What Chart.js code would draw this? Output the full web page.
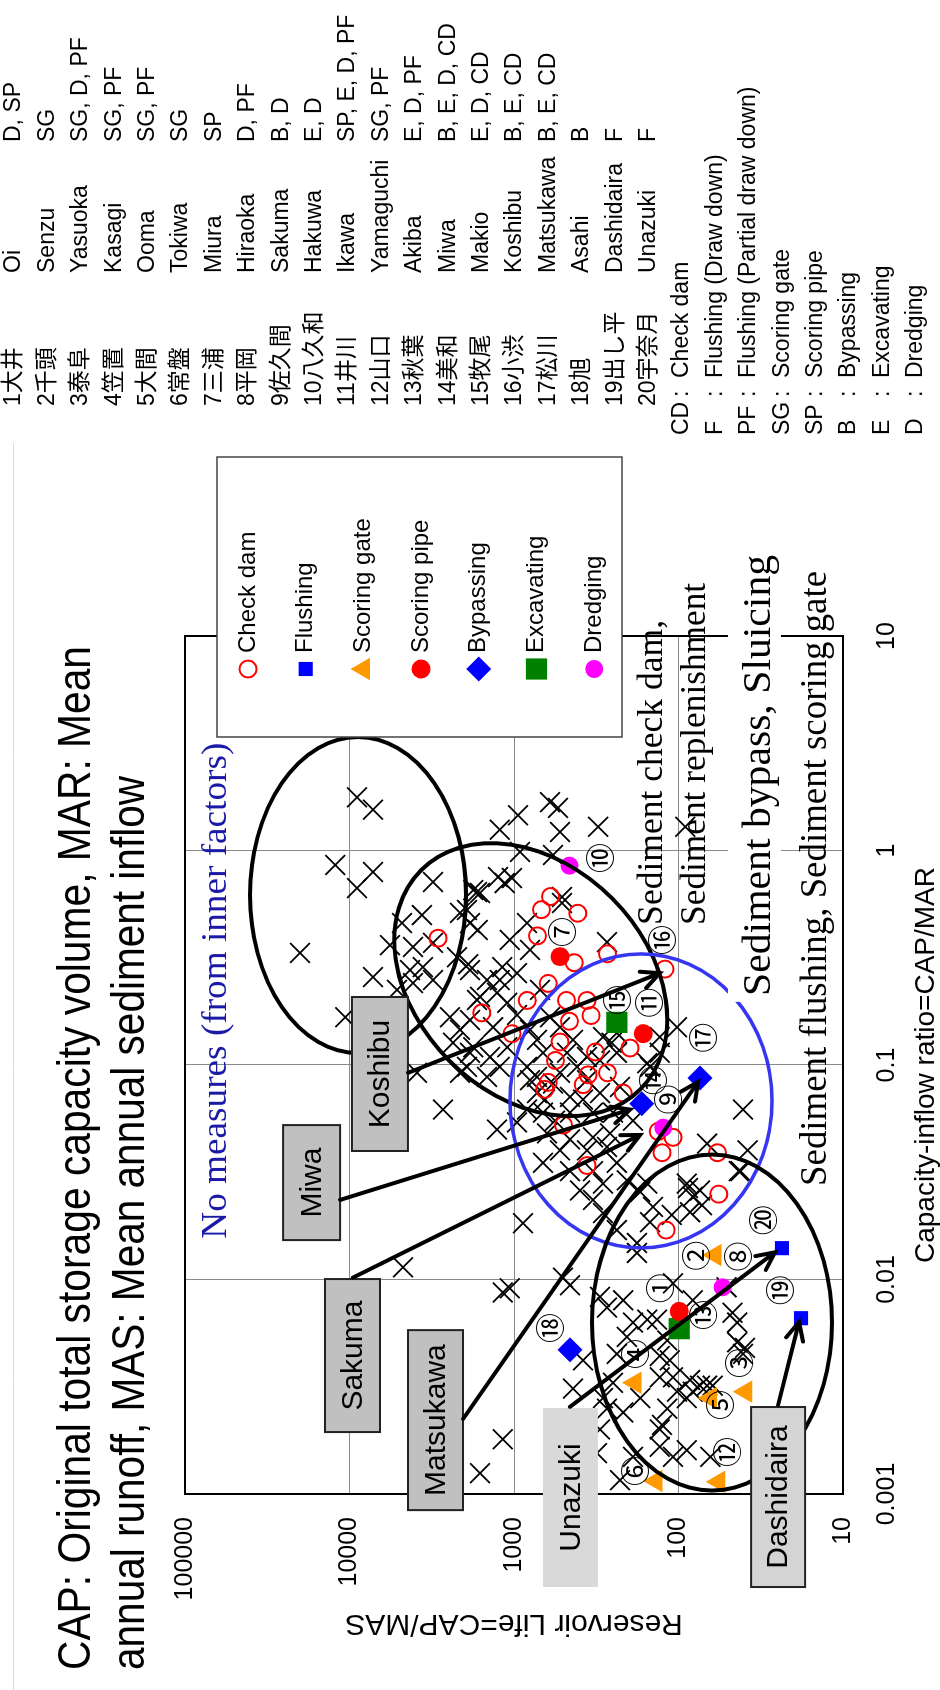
<!DOCTYPE html>
<html>
<head>
<meta charset="utf-8">
<title>Reservoir life vs capacity-inflow ratio</title>
<script src="https://cdn.jsdelivr.net/npm/chart.js@4.4.1/dist/chart.umd.min.js"></script>
<style>
  html, body { margin: 0; padding: 0; background: #fff; overflow: hidden; }
  /* the slide is drawn upright and turned a quarter turn to the left */
  #slide { position: absolute; left: 0; top: 0; width: 1690px; height: 940px;
           transform-origin: 0 0; transform: translate(0, 1690px) rotate(-90deg); }
  #slide canvas { display: block; }
</style>
</head>
<body>
<div id="slide"><canvas id="lifeChart" width="1690" height="940"></canvas></div>
<script>
// Axis ticks
const xTickValues = [0.001, 0.01, 0.1, 1, 10];
const xTickLabels = ['0.001', '0.01', '0.1', '1', '10'];
const yTickValues = [10, 100, 1000, 10000, 100000];
const yTickLabels = ['10', '100', '1000', '10000', '100000'];

// Dams without measures, [CAP/MAR, CAP/MAS]
const otherDams = [
  [1.77, 9000], [1.55, 7190], [0.856, 12200], [0.794, 7190], [0.668, 9000], [0.333, 20000], [0.167, 10600], [0.257, 7190],
  [1.68, 604], [1.58, 540], [1.46, 946], [1.25, 1220], [1.22, 525], [1.29, 308], [1.29, 91], [0.985, 920], [0.953, 579],
  [0.752, 1250], [0.744, 1030], [0.64, 1680], [0.607, 511], [0.713, 3110], [0.654, 1770],
  [0.5, 3630], [0.459, 4800], [0.362, 5670], [0.355, 4110], [0.371, 3110], [0.286, 3580], [0.277, 4290], [0.249, 3110],
  [0.241, 4110], [0.224, 5140], [0.512, 2130], [0.459, 1850], [0.318, 2220], [0.277, 1850], [0.167, 2450], [0.146, 2130],
  [0.127, 2350], [0.114, 1850], [0.092, 2130], [0.092, 3890], [0.062, 2700], [0.201, 1680],
  [0.634, 1610], [0.705, 1140], [0.569, 511], [0.459, 834], [0.383, 1060], [0.344, 800], [0.286, 1180], [0.268, 959],
  [0.528, 1930], [0.426, 1660], [0.295, 1900], [0.249, 1460], [0.374, 272], [0.208, 1610], [0.217, 1270], [0.195, 1100],
  [0.162, 1850], [0.15, 1340], [0.121, 1770], [0.109, 1400], [0.121, 1100], [0.098, 1930], [0.088, 1460], [0.098, 1220],
  [0.131, 725], [0.114, 667], [0.098, 834], [0.114, 476], [0.131, 438], [0.135, 288], [0.127, 255], [0.141, 237],
  [0.109, 360], [0.105, 300], [0.114, 237], [0.15, 102], [0.135, 130], [0.102, 155], [0.088, 725], [0.082, 579],
  [0.071, 457], [0.074, 725], [0.092, 525], [0.069, 381], [0.074, 300], [0.079, 227], [0.06, 457], [0.06, 331],
  [0.06, 250], [0.055, 189], [0.06, 667], [0.062, 834], [0.05, 1270], [0.054, 959], [0.048, 630], [0.045, 457],
  [0.046, 331], [0.048, 261], [0.04, 525], [0.04, 360], [0.0415, 272], [0.035, 237], [0.032, 331], [0.032, 457],
  [0.035, 667], [0.028, 288], [0.029, 206], [0.028, 155], [0.062, 40.5], [0.043, 67], [0.032, 42], [0.028, 89],
  [0.026, 74], [0.098, 149], [0.114, 130], [0.171, 959], [0.146, 800], [0.167, 604], [0.15, 525], [0.224, 695],
  [0.249, 1220], [0.098, 414], [0.085, 360], [0.085, 800], [0.069, 648], [0.055, 564],
  [0.026, 397], [0.0235, 331], [0.0204, 288], [0.017, 237], [0.0256, 171], [0.0218, 143], [0.0148, 179], [0.0185, 149],
  [0.02, 110], [0.0206, 85], [0.0222, 72], [0.0267, 87.5], [0.032, 43], [0.0243, 82], [0.0133, 179], [0.0183, 881],
  [0.0091, 1060], [0.0087, 1170], [0.0102, 504], [0.0094, 457], [0.0083, 300], [0.0074, 272], [0.008, 217], [0.0096, 108],
  [0.008, 82], [0.007, 47], [0.0063, 44], [0.0063, 189], [0.0065, 155], [0.0065, 135], [0.0054, 206], [0.0045, 237],
  [0.0052, 117], [0.0044, 130], [0.0042, 113], [0.0035, 130], [0.0035, 108], [0.0034, 85], [0.0032, 74], [0.0032, 62],
  [0.003, 82], [0.003, 102], [0.0028, 89], [0.0025, 117], [0.0045, 40.5], [0.0051, 44], [0.0042, 381], [0.0031, 438],
  [0.0033, 250], [0.0028, 288], [0.0028, 171], [0.0024, 217], [0.0025, 272], [0.002, 130], [0.00149, 108], [0.0016, 89],
  [0.00149, 64], [0.00166, 130], [0.00149, 189], [0.00116, 227], [0.0018, 1170], [0.00125, 1610], [0.002, 300],
  [0.00155, 313], [0.0114, 4730], [0.0092, 51], [0.0048, 39.4], [0.0032, 67], [0.0021, 126], [0.04, 38]
];

// Dams with measures, [CAP/MAR, CAP/MAS]
const checkDam = [
  [0.39, 2900], [0.61, 600], [0.53, 680], [0.51, 410], [0.40, 720], [0.30, 430], [0.33, 270], [0.24, 620],
  [0.20, 830], [0.20, 480], [0.20, 360], [0.17, 340], [0.16, 460], [0.175, 1570], [0.14, 1030], [0.128, 525],
  [0.115, 320], [0.12, 197], [0.105, 560], [0.092, 270], [0.09, 355], [0.083, 620], [0.077, 650], [0.081, 380],
  [0.074, 217], [0.0525, 500], [0.049, 133], [0.046, 108], [0.039, 126], [0.034, 360], [0.039, 58], [0.025, 57],
  [0.28, 121], [0.017, 119]
];
const flushing = [[0.014, 23.5], [0.0066, 18]];
const scoringGate = [[0.013, 60], [0.0030, 39], [0.0033, 184], [0.0028, 64], [0.00115, 137], [0.00114, 57]];
const scoringPipe = [[0.0071, 99], [0.32, 525], [0.14, 164]];
const bypassing = [[0.087, 74], [0.066, 167], [0.0047, 457]];
const excavating = [[0.158, 237], [0.0059, 99]];
const dredging = [[0.0092, 54], [0.051, 124], [0.85, 460]];

// Where the circled dam numbers 1..20 sit
const damLabelPos = [
  [0.0091, 130], [0.0129, 79], [0.00408, 43], [0.0045, 184], [0.0026, 56], [0.00128, 184], [0.417, 511],
  [0.0128, 44], [0.069, 116], [0.922, 300], [0.195, 153], [0.00157, 50.7], [0.00683, 71], [0.085, 143],
  [0.201, 237], [0.383, 126], [0.134, 71], [0.00594, 604], [0.0089, 24.2], [0.0189, 31]
];

// Dam list on the right
const damNos = ['1大井', '2千頭', '3泰阜', '4笠置', '5大間', '6常盤', '7三浦', '8平岡', '9佐久間', '10八久和',
  '11井川', '12山口', '13秋葉', '14美和', '15牧尾', '16小渋', '17松川', '18旭', '19出し平', '20宇奈月'];
const damNames = ['Oi', 'Senzu', 'Yasuoka', 'Kasagi', 'Ooma', 'Tokiwa', 'Miura', 'Hiraoka', 'Sakuma', 'Hakuwa',
  'Ikawa', 'Yamaguchi', 'Akiba', 'Miwa', 'Makio', 'Koshibu', 'Matsukawa', 'Asahi', 'Dashidaira', 'Unazuki'];
const damMeasures = ['D, SP', 'SG', 'SG, D, PF', 'SG, PF', 'SG, PF', 'SG', 'SP', 'D, PF', 'B, D', 'E, D',
  'SP, E, D, PF', 'SG, PF', 'E, D, PF', 'B, E, D, CD', 'E, D, CD', 'B, E, CD', 'B, E, CD', 'B', 'F', 'F'];
const measureCodes = ['CD', 'F', 'PF', 'SG', 'SP', 'B', 'E', 'D'];
const measureNames = ['Check dam', 'Flushing (Draw down)', 'Flushing (Partial draw down)', 'Scoring gate',
  'Scoring pipe', 'Bypassing', 'Excavating', 'Dredging'];

const titleLines = ['CAP: Original total storage capacity volume, MAR: Mean',
  'annual runoff, MAS: Mean annual sediment inflow'];

// Annotation layer (centres in data units, sizes in px)
const zones = [
  { x: 0.62, y: 8870, rx: 158, ry: 108, rot: 0, color: '#000', width: 4 },
  { x: 0.25, y: 790, rx: 155, ry: 115, rot: -45, color: '#000', width: 4 },
  { x: 0.068, y: 169, rx: 147, ry: 131, rot: 0, color: '#3535f2', width: 3.5 },
  { x: 0.0063, y: 62.5, rx: 168, ry: 120, rot: 0, color: '#000', width: 4 }
];
const callouts = [
  { text: 'Miwa', x: 0.0283, y: 17000, w: 115, h: 57, fill: '#c0c0c0', border: true },
  { text: 'Koshibu', x: 0.0908, y: 6530, w: 154, h: 56, fill: '#c0c0c0', border: true },
  { text: 'Sakuma', x: 0.00442, y: 9590, w: 153, h: 55, fill: '#c0c0c0', border: true },
  { text: 'Matsukawa', x: 0.00221, y: 3000, w: 180, h: 55, fill: '#c0c0c0', border: true },
  { text: 'Unazuki', x: 0.000963, y: 454, w: 179, h: 55, fill: '#d9d9d9', border: false },
  { text: 'Dashidaira', x: 0.000968, y: 24.8, w: 180, h: 54, fill: '#d4d4d4', border: true }
];
const arrows = [
  { from: [0.092, 4400], to: [0.268, 130] },
  { from: [0.0235, 11400], to: [0.062, 197] },
  { from: [0.0102, 9530], to: [0.0472, 171] },
  { from: [0.00224, 2040], to: [0.0834, 76] },
  { from: [0.00255, 457], to: [0.0134, 25.9] },
  { from: [0.0026, 24.8], to: [0.00634, 18.5] }
];
const notes = [
  { text: 'No measures (from inner factors)', x: 0.0155, y: 56400, width: 496, size: 36, color: '#1a1aa6' },
  { text: 'Sediment check dam,', x: 0.45, y: 126, width: 305, size: 36, color: '#000' },
  { text: 'Sediment replenishment', x: 0.45, y: 69, width: 342, size: 36, color: '#000' },
  { text: 'Sediment bypass, Sluicing', x: 0.21, y: 27.8, width: 441, size: 40, color: '#000', box: true },
  { text: 'Sediment flushing, Sediment scoring gate', x: 0.0273, y: 12.7, width: 615, size: 37, color: '#000' }
];

const SANS = 'Arial, "Liberation Sans", "Noto Sans CJK JP", sans-serif';
const SERIF = '"Liberation Serif", "Times New Roman", serif';
Chart.defaults.font.family = SANS;
Chart.defaults.color = '#000';

function toPoints(pairs) {
  return pairs.map(p => ({ x: p[0], y: p[1] }));
}

// Stretch or squeeze a line of text to a given length
function fitText(ctx, text, x, y, width) {
  const w = ctx.measureText(text).width;
  ctx.save();
  ctx.translate(x, y);
  ctx.scale(width / w, 1);
  ctx.fillText(text, 0, 0);
  ctx.restore();
}

function drawMarker(ctx, style, r, x, y, fill, stroke, lw) {
  ctx.beginPath();
  if (style === 'circle') {
    ctx.arc(x, y, r, 0, Math.PI * 2);
  } else if (style === 'rect') {
    const s = r * Math.SQRT1_2;
    ctx.rect(x - s, y - s, 2 * s, 2 * s);
  } else if (style === 'rectRot') {
    ctx.moveTo(x - r, y); ctx.lineTo(x, y - r); ctx.lineTo(x + r, y); ctx.lineTo(x, y + r); ctx.closePath();
  } else if (style === 'triangle') {
    ctx.moveTo(x, y - r); ctx.lineTo(x + r * 0.866, y + r / 2); ctx.lineTo(x - r * 0.866, y + r / 2); ctx.closePath();
  }
  ctx.fillStyle = fill;
  ctx.fill();
  if (lw > 0) {
    ctx.lineWidth = lw;
    ctx.strokeStyle = stroke;
    ctx.stroke();
  }
}

function drawArrow(ctx, x1, y1, x2, y2) {
  const a = Math.atan2(y2 - y1, x2 - x1);
  const len = 20, spread = Math.PI / 7;
  ctx.beginPath();
  ctx.moveTo(x1, y1);
  ctx.lineTo(x2, y2);
  ctx.moveTo(x2 - len * Math.cos(a - spread), y2 - len * Math.sin(a - spread));
  ctx.lineTo(x2, y2);
  ctx.lineTo(x2 - len * Math.cos(a + spread), y2 - len * Math.sin(a + spread));
  ctx.stroke();
}

function markerSet(label, pairs, style, radius, color) {
  return {
    label: label, data: toPoints(pairs), pointStyle: style, pointRadius: radius,
    pointBackgroundColor: color, pointBorderColor: color, pointBorderWidth: 0, order: 1
  };
}

const datasets = [
  {
    label: 'Check dam', data: toPoints(checkDam), pointStyle: 'circle', pointRadius: 8.5,
    pointBackgroundColor: 'rgba(255,255,255,0)', pointBorderColor: '#ff0000', pointBorderWidth: 2, order: 5
  },
  markerSet('Flushing', flushing, 'rect', 10, '#0000ff'),
  markerSet('Scoring gate', scoringGate, 'triangle', 13, '#ff9900'),
  markerSet('Scoring pipe', scoringPipe, 'circle', 9.5, '#ff0000'),
  markerSet('Bypassing', bypassing, 'rectRot', 12.5, '#0000ff'),
  markerSet('Excavating', excavating, 'rect', 15, '#008000'),
  markerSet('Dredging', dredging, 'circle', 9, '#ff00ff'),
  {
    label: 'Other dams', data: toPoints(otherDams), pointStyle: 'crossRot', pointRadius: 14,
    pointBackgroundColor: '#000', pointBorderColor: '#000', pointBorderWidth: 1.8, order: 10, noLegend: true
  }
];

const overlayPlugin = {
  id: 'overlay',
  afterDatasetsDraw(chart) {
    const ctx = chart.ctx;
    const area = chart.chartArea;
    const px = v => chart.scales.x.getPixelForValue(v);
    const py = v => chart.scales.y.getPixelForValue(v);
    ctx.save();

    // zone ellipses
    zones.forEach(z => {
      ctx.beginPath();
      ctx.ellipse(px(z.x), py(z.y), z.rx, z.ry, z.rot * Math.PI / 180, 0, Math.PI * 2);
      ctx.strokeStyle = z.color;
      ctx.lineWidth = z.width;
      ctx.stroke();
    });

    // plot frame
    ctx.strokeStyle = '#000';
    ctx.lineWidth = 2;
    ctx.strokeRect(area.left, area.top, area.right - area.left, area.bottom - area.top);

    // notes
    ctx.textAlign = 'left';
    ctx.textBaseline = 'alphabetic';
    notes.forEach(n => {
      const x = px(n.x), y = py(n.y);
      if (n.box) {
        ctx.fillStyle = '#fff';
        ctx.fillRect(x - 6, y - 42, n.width + 11, 53);
      }
      ctx.font = n.size + 'px ' + SERIF;
      ctx.fillStyle = n.color;
      fitText(ctx, n.text, x, y, n.width);
    });

    // circled dam numbers
    ctx.font = '30px "Noto Sans CJK JP", sans-serif';
    ctx.fillStyle = '#000';
    ctx.textAlign = 'center';
    ctx.textBaseline = 'middle';
    damLabelPos.forEach((p, i) => {
      ctx.fillText(String.fromCharCode(0x2460 + i), px(p[0]), py(p[1]));
    });

    // name boxes
    ctx.font = '30px ' + SANS;
    callouts.forEach(c => {
      const x = px(c.x), y = py(c.y);
      ctx.fillStyle = c.fill;
      ctx.fillRect(x - c.w / 2, y - c.h / 2, c.w, c.h);
      if (c.border) {
        ctx.strokeStyle = '#222';
        ctx.lineWidth = 2;
        ctx.strokeRect(x - c.w / 2, y - c.h / 2, c.w, c.h);
      }
      ctx.fillStyle = '#000';
      ctx.fillText(c.text, x, y + 1);
    });

    // arrows
    ctx.strokeStyle = '#000';
    ctx.lineWidth = 4;
    ctx.lineCap = 'round';
    arrows.forEach(a => {
      drawArrow(ctx, px(a.from[0]), py(a.from[1]), px(a.to[0]), py(a.to[1]));
    });
    ctx.lineCap = 'butt';

    // legend box
    ctx.fillStyle = '#fff';
    ctx.fillRect(953, 217, 280, 405);
    ctx.strokeStyle = '#444';
    ctx.lineWidth = 1.5;
    ctx.strokeRect(953, 217, 280, 405);
    ctx.font = '24px ' + SANS;
    ctx.textAlign = 'left';
    ctx.textBaseline = 'middle';
    chart.data.datasets.filter(d => !d.noLegend).forEach((d, i) => {
      const y = 248 + i * 57.7;
      drawMarker(ctx, d.pointStyle, d.pointRadius, 1021, y, d.pointBackgroundColor, d.pointBorderColor, d.pointBorderWidth);
      ctx.fillStyle = '#000';
      ctx.fillText(d.label, 1037, y);
    });

    // slide title
    ctx.textBaseline = 'alphabetic';
    ctx.font = '46px ' + SANS;
    ctx.fillStyle = '#000';
    fitText(ctx, titleLines[0], 20, 90, 1024);
    fitText(ctx, titleLines[1], 20, 144, 894);

    // faint slide rule
    ctx.strokeStyle = '#dcdcdc';
    ctx.lineWidth = 1;
    ctx.beginPath();
    ctx.moveTo(0, 13.5);
    ctx.lineTo(1247, 13.5);
    ctx.stroke();

    // dam list
    ctx.font = '23px ' + SANS;
    ctx.textBaseline = 'middle';
    ctx.fillStyle = '#000';
    damNos.forEach((no, i) => {
      const y = 14 + i * 33.4;
      ctx.fillText(no, 1284, y);
      ctx.fillText(damNames[i], 1417, y);
      ctx.fillText(damMeasures[i], 1548, y);
    });
    measureCodes.forEach((code, i) => {
      const y = 14 + (20 + i) * 33.4;
      ctx.fillText(code, 1255, y);
      ctx.fillText(':', 1293, y);
      ctx.fillText(measureNames[i], 1312, y);
    });

    ctx.restore();
  }
};

new Chart(document.getElementById('lifeChart'), {
  type: 'scatter',
  data: { datasets: datasets },
  options: {
    responsive: false,
    devicePixelRatio: 1,
    animation: false,
    events: [],
    layout: { padding: { left: 49, right: 636, top: 185, bottom: 0 } },
    scales: {
      x: {
        type: 'logarithmic',
        position: 'bottom',
        min: 0.001,
        max: 10,
        afterBuildTicks: scale => { scale.ticks = xTickValues.map(v => ({ value: v })); },
        afterFit: scale => { scale.height = 97; },
        grid: { color: '#8a8a8a', lineWidth: 1, drawTicks: false },
        border: { display: false },
        ticks: {
          font: { size: 25 }, color: '#000', padding: 29, maxRotation: 0, autoSkip: false,
          callback: (value, index) => xTickLabels[index]
        },
        title: {
          display: true, text: 'Capacity-inflow ratio=CAP/MAR', color: '#000',
          font: { size: 28, lineHeight: 1.0 }, padding: { top: 0, bottom: 0 }
        }
      },
      y: {
        type: 'logarithmic',
        position: 'left',
        min: 10,
        max: 100000,
        afterBuildTicks: scale => { scale.ticks = yTickValues.map(v => ({ value: v })); },
        afterFit: scale => { scale.width = 147; },
        grid: { color: '#8a8a8a', lineWidth: 1, drawTicks: false },
        border: { display: false },
        ticks: {
          font: { size: 25 }, color: '#000', padding: 23, autoSkip: false,
          callback: (value, index) => yTickLabels[index]
        },
        title: {
          display: true, text: 'Reservoir Life=CAP/MAS', color: '#000',
          font: { size: 30 }, padding: { top: 0, bottom: 0 }
        }
      }
    },
    plugins: {
      legend: { display: false },
      tooltip: { enabled: false }
    }
  },
  plugins: [overlayPlugin]
});
</script>
</body>
</html>
